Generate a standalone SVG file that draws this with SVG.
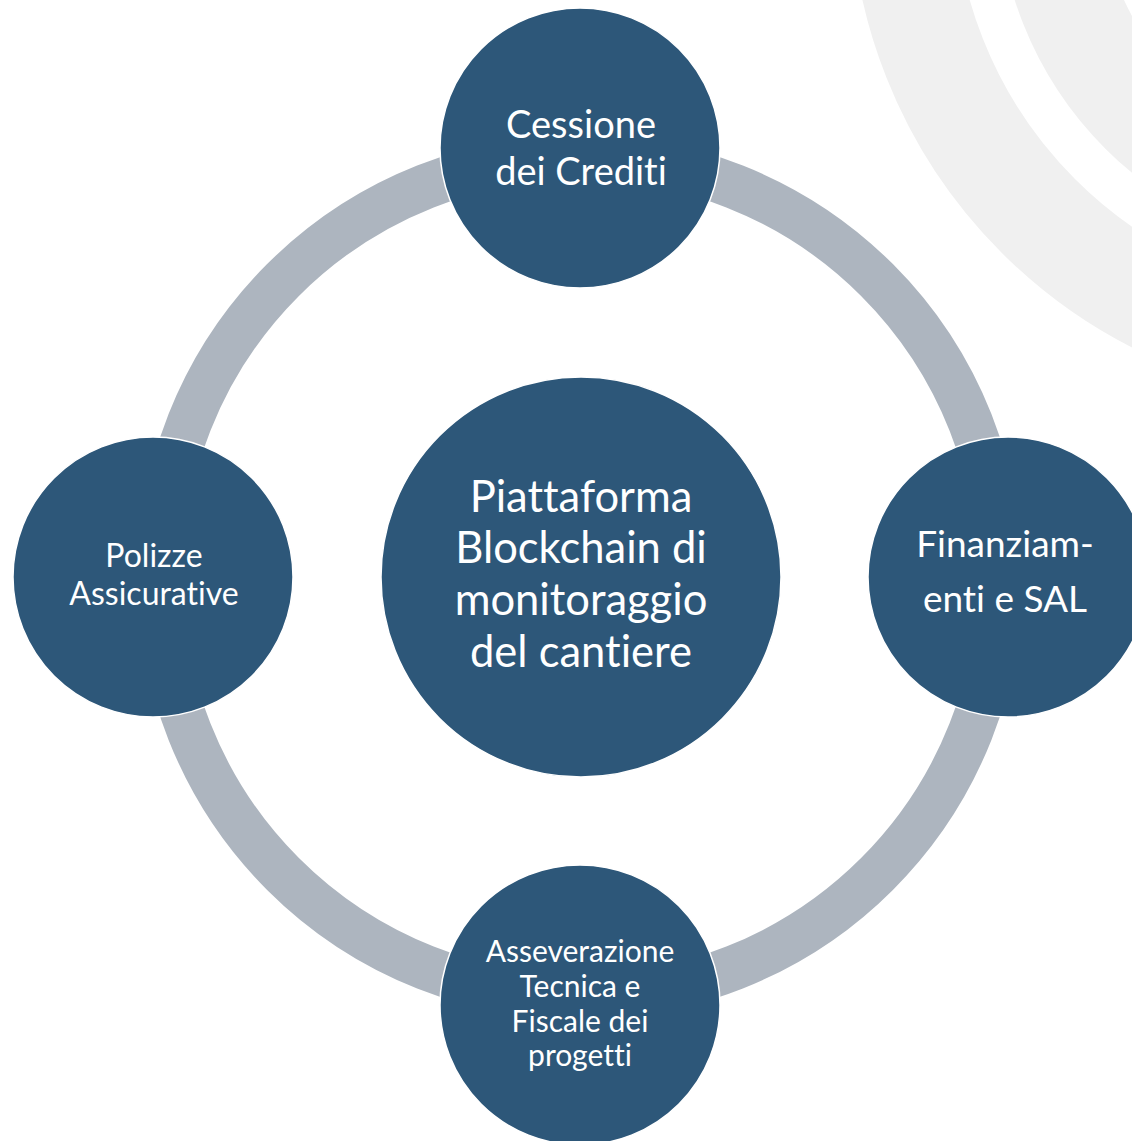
<svg xmlns="http://www.w3.org/2000/svg" width="1132" height="1141" viewBox="0 0 1132 1141">
<style>
.bg{fill:none;stroke:#F0F0F0}
.ring{fill:none;stroke:#ADB5BF;stroke-width:45}
.node{fill:#2D5779;stroke:#FFFFFF;stroke-width:1.5}
.lbl{fill:#FFFFFF;font-family:Lato,"Open Sans","Liberation Sans",sans-serif;text-anchor:middle;font-variant-ligatures:none;font-feature-settings:"liga" 0,"clig" 0,"dlig" 0}
</style>
<rect width="1132" height="1141" fill="#FFFFFF"/>
<g id="background">
<circle class="bg" cx="1367" cy="-113" r="465" stroke-width="104"/>
<circle class="bg" cx="1367" cy="-113" r="319" stroke-width="102"/>
</g>
<g id="connectors">
<circle class="ring" cx="580" cy="577" r="420"/>
</g>
<g id="node-top">
<circle class="node" cx="580" cy="148" r="140"/>
<text class="lbl" font-size="38"><tspan x="581" y="138">Cessione</tspan><tspan x="581" y="185">dei Crediti</tspan></text>
</g>
<g id="node-right">
<circle class="node" cx="1008" cy="577" r="140"/>
<text class="lbl" font-size="37"><tspan x="1005" y="557">Finanziam-</tspan><tspan x="1005" y="612">enti e SAL</tspan></text>
</g>
<g id="node-bottom">
<circle class="node" cx="580" cy="1005" r="140"/>
<text class="lbl" font-size="30"><tspan x="580" y="962">Asseverazione</tspan><tspan x="580" y="997">Tecnica e</tspan><tspan x="580" y="1032">Fiscale dei</tspan><tspan x="580" y="1066">progetti</tspan></text>
</g>
<g id="node-left">
<circle class="node" cx="153" cy="577" r="140"/>
<text class="lbl" font-size="32"><tspan x="154" y="567">Polizze</tspan><tspan x="154" y="605">Assicurative</tspan></text>
</g>
<g id="node-center">
<circle class="node" cx="581" cy="577" r="200"/>
<text class="lbl" font-size="43.5"><tspan x="581" y="512">Piattaforma</tspan><tspan x="581" y="563">Blockchain di</tspan><tspan x="581" y="615">monitoraggio</tspan><tspan x="581" y="667">del cantiere</tspan></text>
</g>
</svg>
